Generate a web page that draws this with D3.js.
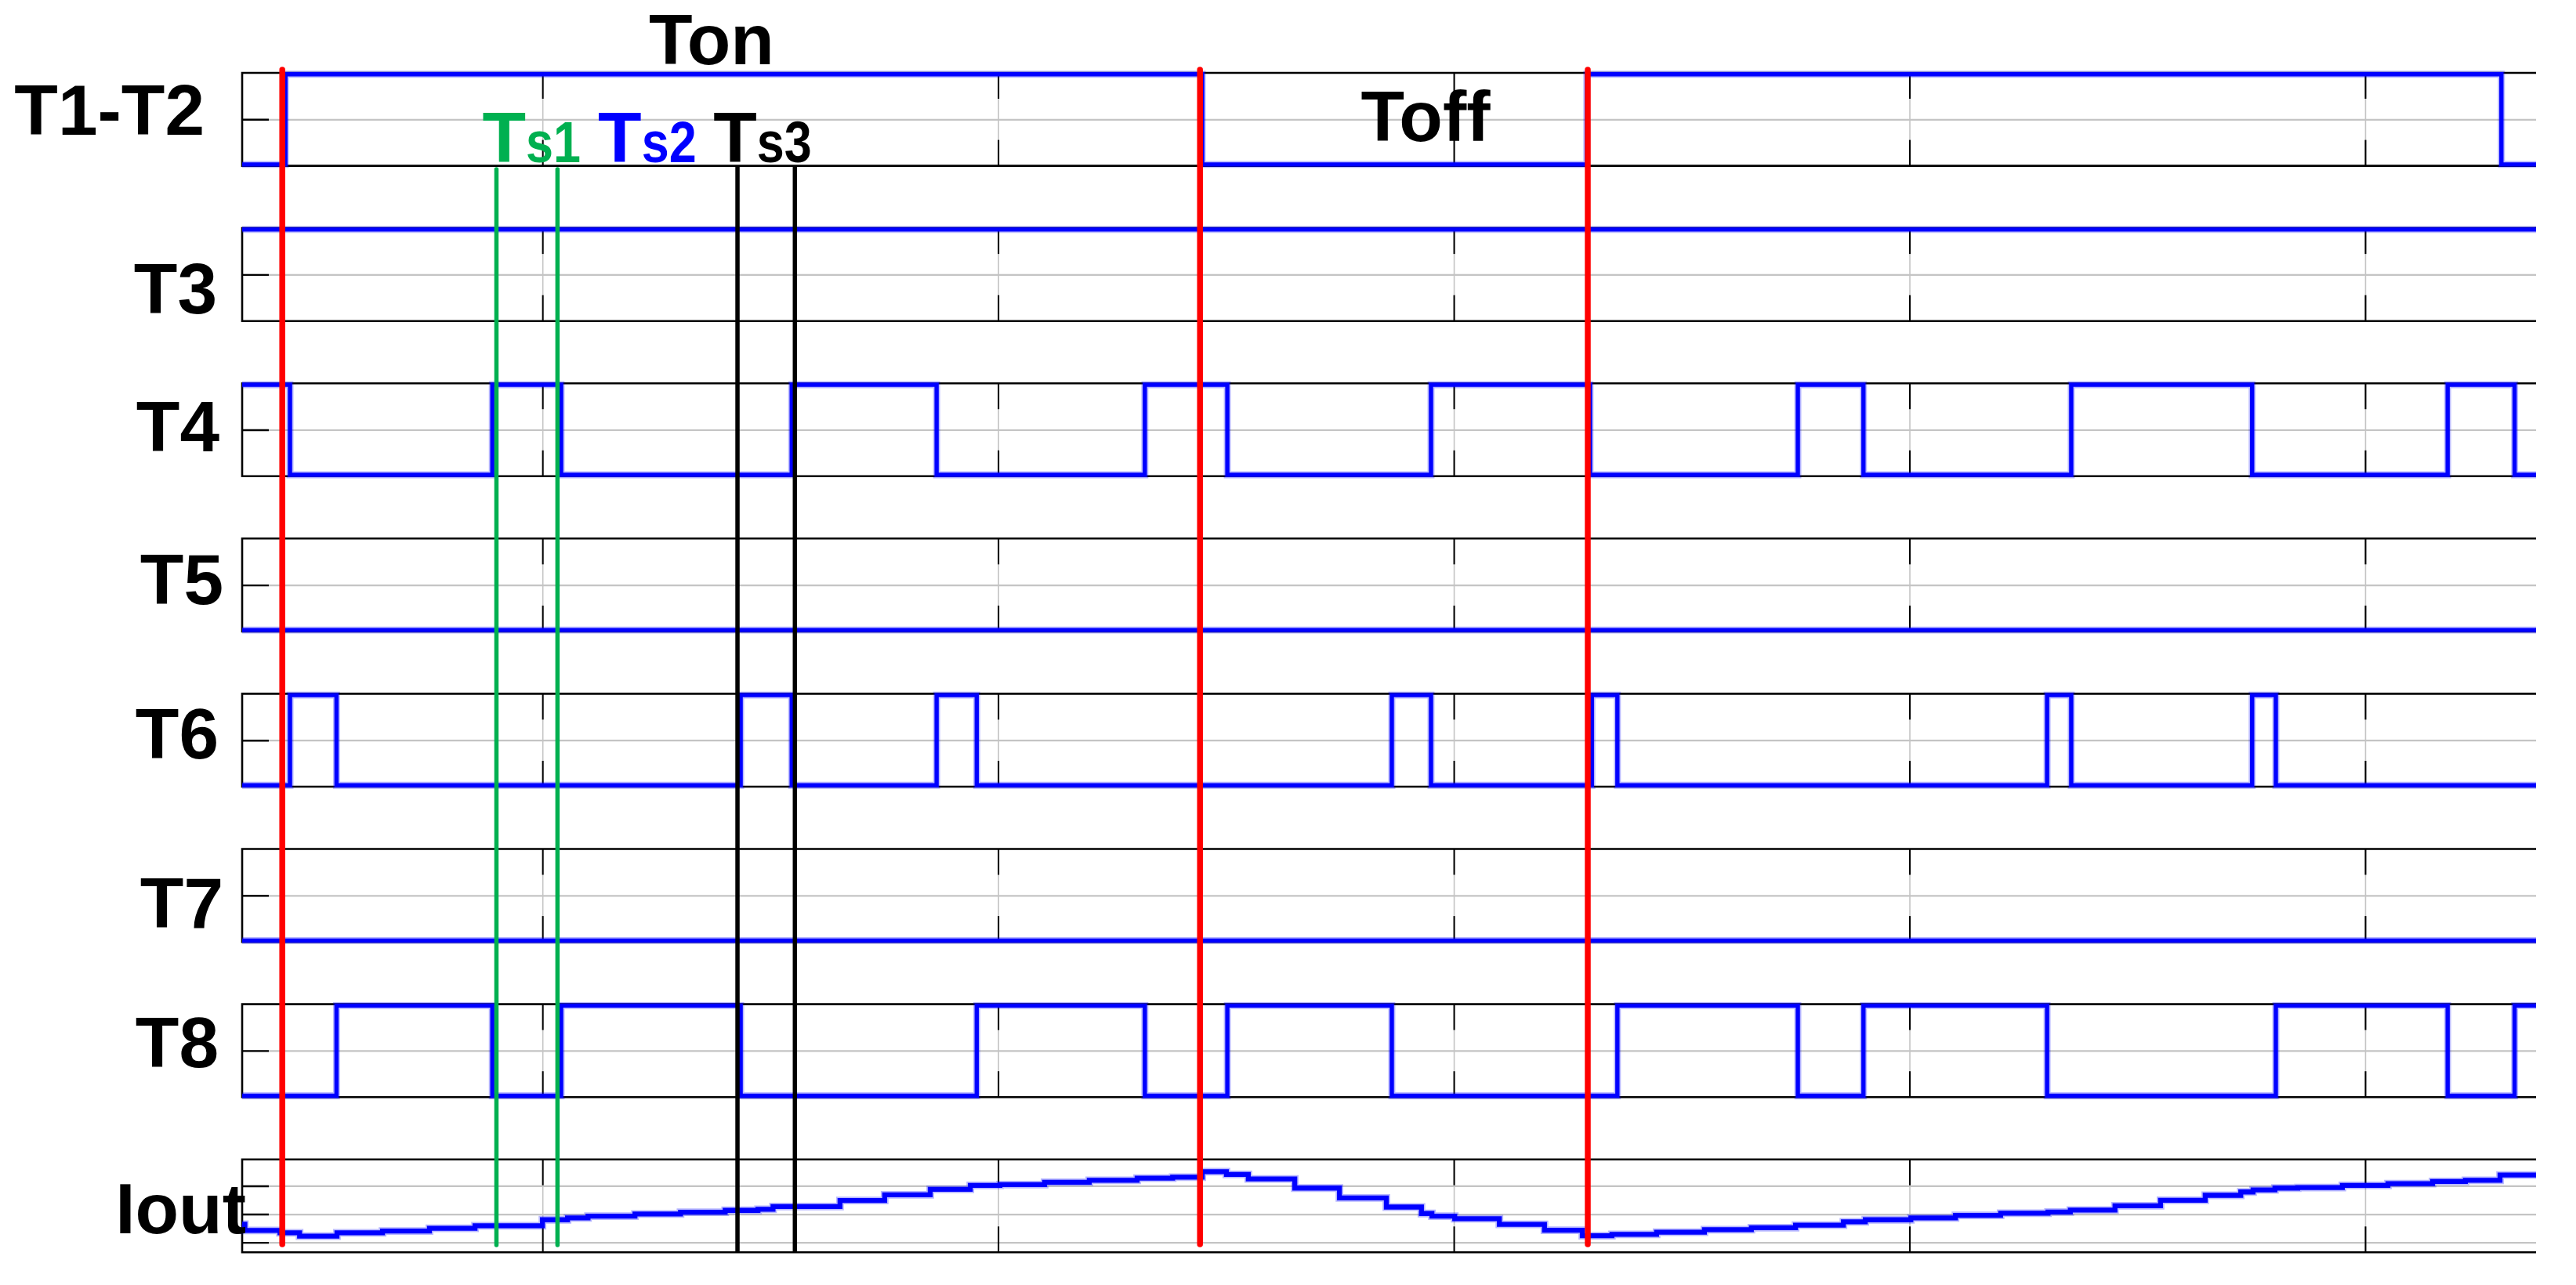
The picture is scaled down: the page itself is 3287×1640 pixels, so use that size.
<!DOCTYPE html>
<html><head><meta charset="utf-8">
<script src="https://cdn.jsdelivr.net/npm/d3@7"></script>
<style>
html,body{margin:0;padding:0;background:#fff;}
svg{display:block;}
text{font-family:"Liberation Sans",Arial,sans-serif;font-weight:bold;}
</style></head><body>
<svg id="chart" width="3287" height="1640"></svg>
<script>
// ================= DATA =================
const channels = ["T1-T2", "T3", "T4", "T5", "T6", "T7", "T8", "Iout"];
const timeTicks = [1, 2, 3, 4, 5];
const gateTicks = [0.5];
const ioutTicks = [1, 2, 3];
const timeDomain = [0.341, 5.375];

// gate signals: [time, level] change points (held until next point)
const sigT1T2 = [[0.341,0],[0.436,1],[2.448,0],[3.292,1],[5.299,0]];
const sigT3   = [[0.341,1]];
const sigT4   = [[0.341,1],[0.446,0],[0.890,1],[1.041,0],[1.547,1],[1.865,0],[2.322,1],[2.503,0],
                 [2.950,1],[3.299,0],[3.755,1],[3.899,0],[4.355,1],[4.752,0],[5.181,1],[5.328,0]];
const sigT5   = [[0.341,0]];
const sigT6   = [[0.341,0],[0.446,1],[0.548,0],[1.435,1],[1.547,0],[1.865,1],[1.953,0],[2.864,1],
                 [2.950,0],[3.303,1],[3.359,0],[4.302,1],[4.355,0],[4.752,1],[4.804,0]];
const sigT7   = [[0.341,0]];
const sigT8   = [[0.341,0],[0.548,1],[0.890,0],[1.041,1],[1.435,0],[1.953,1],[2.322,0],[2.503,1],
                 [2.864,0],[3.359,1],[3.755,0],[3.899,1],[4.302,0],[4.804,1],[5.181,0],[5.328,1]];

// output current (staircase): [time, value]
const iout = [[0.341,1.644],[0.347,1.423],[0.424,1.340],[0.467,1.221],[0.549,1.340],[0.649,1.403],
  [0.752,1.497],[0.852,1.588],[1.000,1.801],[1.055,1.865],[1.100,1.928],[1.203,2.003],[1.303,2.066],
  [1.401,2.133],[1.473,2.169],[1.506,2.271],[1.653,2.481],[1.751,2.685],[1.851,2.878],[1.939,3.017],
  [2.004,3.044],[2.102,3.127],[2.200,3.199],[2.305,3.273],[2.383,3.309],[2.448,3.503],[2.501,3.403],
  [2.549,3.246],[2.651,2.923],[2.749,2.575],[2.852,2.251],[2.929,2.022],[2.952,1.928],[3.002,1.837],
  [3.100,1.635],[3.199,1.431],[3.282,1.238],[3.347,1.285],[3.445,1.359],[3.550,1.450],[3.653,1.519],
  [3.750,1.608],[3.855,1.727],[3.903,1.801],[4.003,1.865],[4.101,1.956],[4.200,2.030],[4.304,2.077],
  [4.353,2.141],[4.451,2.298],[4.551,2.492],[4.649,2.666],[4.727,2.785],[4.754,2.859],[4.802,2.923],
  [4.852,2.942],[4.950,3.017],[5.050,3.080],[5.148,3.155],[5.220,3.199],[5.296,3.384]];
const ioutDomain = [0.649, 3.936];

// event markers (time)
const switchTimes = [0.429, 2.443, 3.294];   // red
const ts1Times = [0.899, 1.033];             // green
const ts3Times = [1.428, 1.554];             // black

// annotation texts
const phaseLabels = [{text:"Ton", t:1.371}, {text:"Toff", t:2.938}];
const tsLabels = [{main:"T", sub:"s1", color:"#00b050", t:0.868},
                  {main:"T", sub:"s2", color:"#0000ff", t:1.122},
                  {main:"T", sub:"s3", color:"#000000", t:1.375}];

// ================= LAYOUT =================
const L = 309, R = 3236;
const panelTop0 = 93, panelStep = 198.1, panelH = 118.6;
const labelBaseOff = [79, 109, 87, 84, 83, 100, 80, 94];
const labelRight   = [261, 277, 280, 285, 279, 285, 279, 314];
const FS = 91, FS_SUB = 75, SUB_W = 70;

const svg = d3.select("#chart");
const x = d3.scaleLinear().domain(timeDomain).range([L, R]);
const signals = [sigT1T2, sigT3, sigT4, sigT5, sigT6, sigT7, sigT8];

const gridG = svg.append("g"), sigG = svg.append("g"), evG = svg.append("g"), txtG = svg.append("g");

channels.forEach((name, i) => {
  const top = panelTop0 + i * panelStep, bot = top + panelH;
  const isI = name === "Iout";
  const y = d3.scaleLinear().domain(isI ? ioutDomain : [-0.015, 1.015]).range([bot, top]);
  const ticks = isI ? ioutTicks : gateTicks;
  const g = gridG.append("g");

  g.append("g").attr("transform", `translate(${L},0)`)
    .call(d3.axisLeft(y).tickValues(ticks).tickSize(-(R - L)).tickFormat(""))
    .call(s => { s.select(".domain").remove(); s.selectAll("line").attr("stroke", "#c4c4c4").attr("stroke-width", 2.2); });
  g.append("g").attr("transform", `translate(0,${bot})`)
    .call(d3.axisBottom(x).tickValues(timeTicks).tickSize(-panelH).tickFormat(""))
    .call(s => { s.select(".domain").remove(); s.selectAll("line").attr("stroke", "#c4c4c4").attr("stroke-width", 1.6); });
  g.append("g").attr("transform", `translate(0,${top})`)
    .call(d3.axisTop(x).tickValues(timeTicks).tickSize(-33).tickFormat(""))
    .call(s => { s.select(".domain").remove(); s.selectAll("line").attr("stroke", "#000").attr("stroke-width", 2); });
  g.append("g").attr("transform", `translate(0,${bot})`)
    .call(d3.axisBottom(x).tickValues(timeTicks).tickSize(-33).tickFormat(""))
    .call(s => { s.select(".domain").remove(); s.selectAll("line").attr("stroke", "#000").attr("stroke-width", 2); });
  g.append("g").attr("transform", `translate(${L},0)`)
    .call(d3.axisLeft(y).tickValues(ticks).tickSize(-34).tickFormat(""))
    .call(s => { s.select(".domain").remove(); s.selectAll("line").attr("stroke", "#000").attr("stroke-width", 2.4); });
  g.append("path").attr("d", `M${R},${top}H${L}V${bot}H${R}`)
    .attr("fill", "none").attr("stroke", "#000").attr("stroke-width", 2.6);

  const data = isI ? iout : signals[i];
  const full = data.concat([[timeDomain[1], data[data.length - 1][1]]]);
  const line = d3.line().x(d => x(d[0])).y(d => y(d[1])).curve(d3.curveStepAfter);
  const sw = isI ? 6.3 : 5.4;
  sigG.append("path").attr("d", line(full)).attr("fill", "none")
    .attr("stroke", "#0000ff").attr("stroke-opacity", 0.28).attr("stroke-width", sw + 3.5);
  sigG.append("path").attr("d", line(full)).attr("fill", "none")
    .attr("stroke", "#0000ff").attr("stroke-width", sw);

  txtG.append("text").attr("x", labelRight[i]).attr("y", top + labelBaseOff[i])
    .attr("text-anchor", "end").attr("font-size", FS).attr("fill", "#000").text(name);
});

evG.selectAll(".ts3").data(ts3Times).join("line")
  .attr("x1", d => x(d)).attr("x2", d => x(d)).attr("y1", 211).attr("y2", 1599)
  .attr("stroke", "#000").attr("stroke-width", 5.5);
evG.selectAll(".ts1").data(ts1Times).join("line")
  .attr("x1", d => x(d)).attr("x2", d => x(d)).attr("y1", 216).attr("y2", 1589)
  .attr("stroke", "#00b050").attr("stroke-width", 5.5).attr("stroke-linecap", "round");
evG.selectAll(".sw").data(switchTimes).join("line")
  .attr("x1", d => x(d)).attr("x2", d => x(d)).attr("y1", 89).attr("y2", 1588)
  .attr("stroke", "#ff0000").attr("stroke-width", 7.5).attr("stroke-linecap", "round");

txtG.selectAll(".phase").data(phaseLabels).join("text")
  .attr("x", d => x(d.t)).attr("y", (d, i) => i === 0 ? 82 : 180)
  .attr("text-anchor", "middle").attr("font-size", FS).attr("fill", "#000").text(d => d.text);

tsLabels.forEach(d => {
  const t = txtG.append("text").attr("x", x(d.t)).attr("y", 207).attr("fill", d.color);
  t.append("tspan").attr("font-size", FS).text(d.main);
  t.append("tspan").attr("font-size", FS_SUB).attr("textLength", SUB_W)
    .attr("lengthAdjust", "spacingAndGlyphs").text(d.sub);
});
</script>
</body></html>
